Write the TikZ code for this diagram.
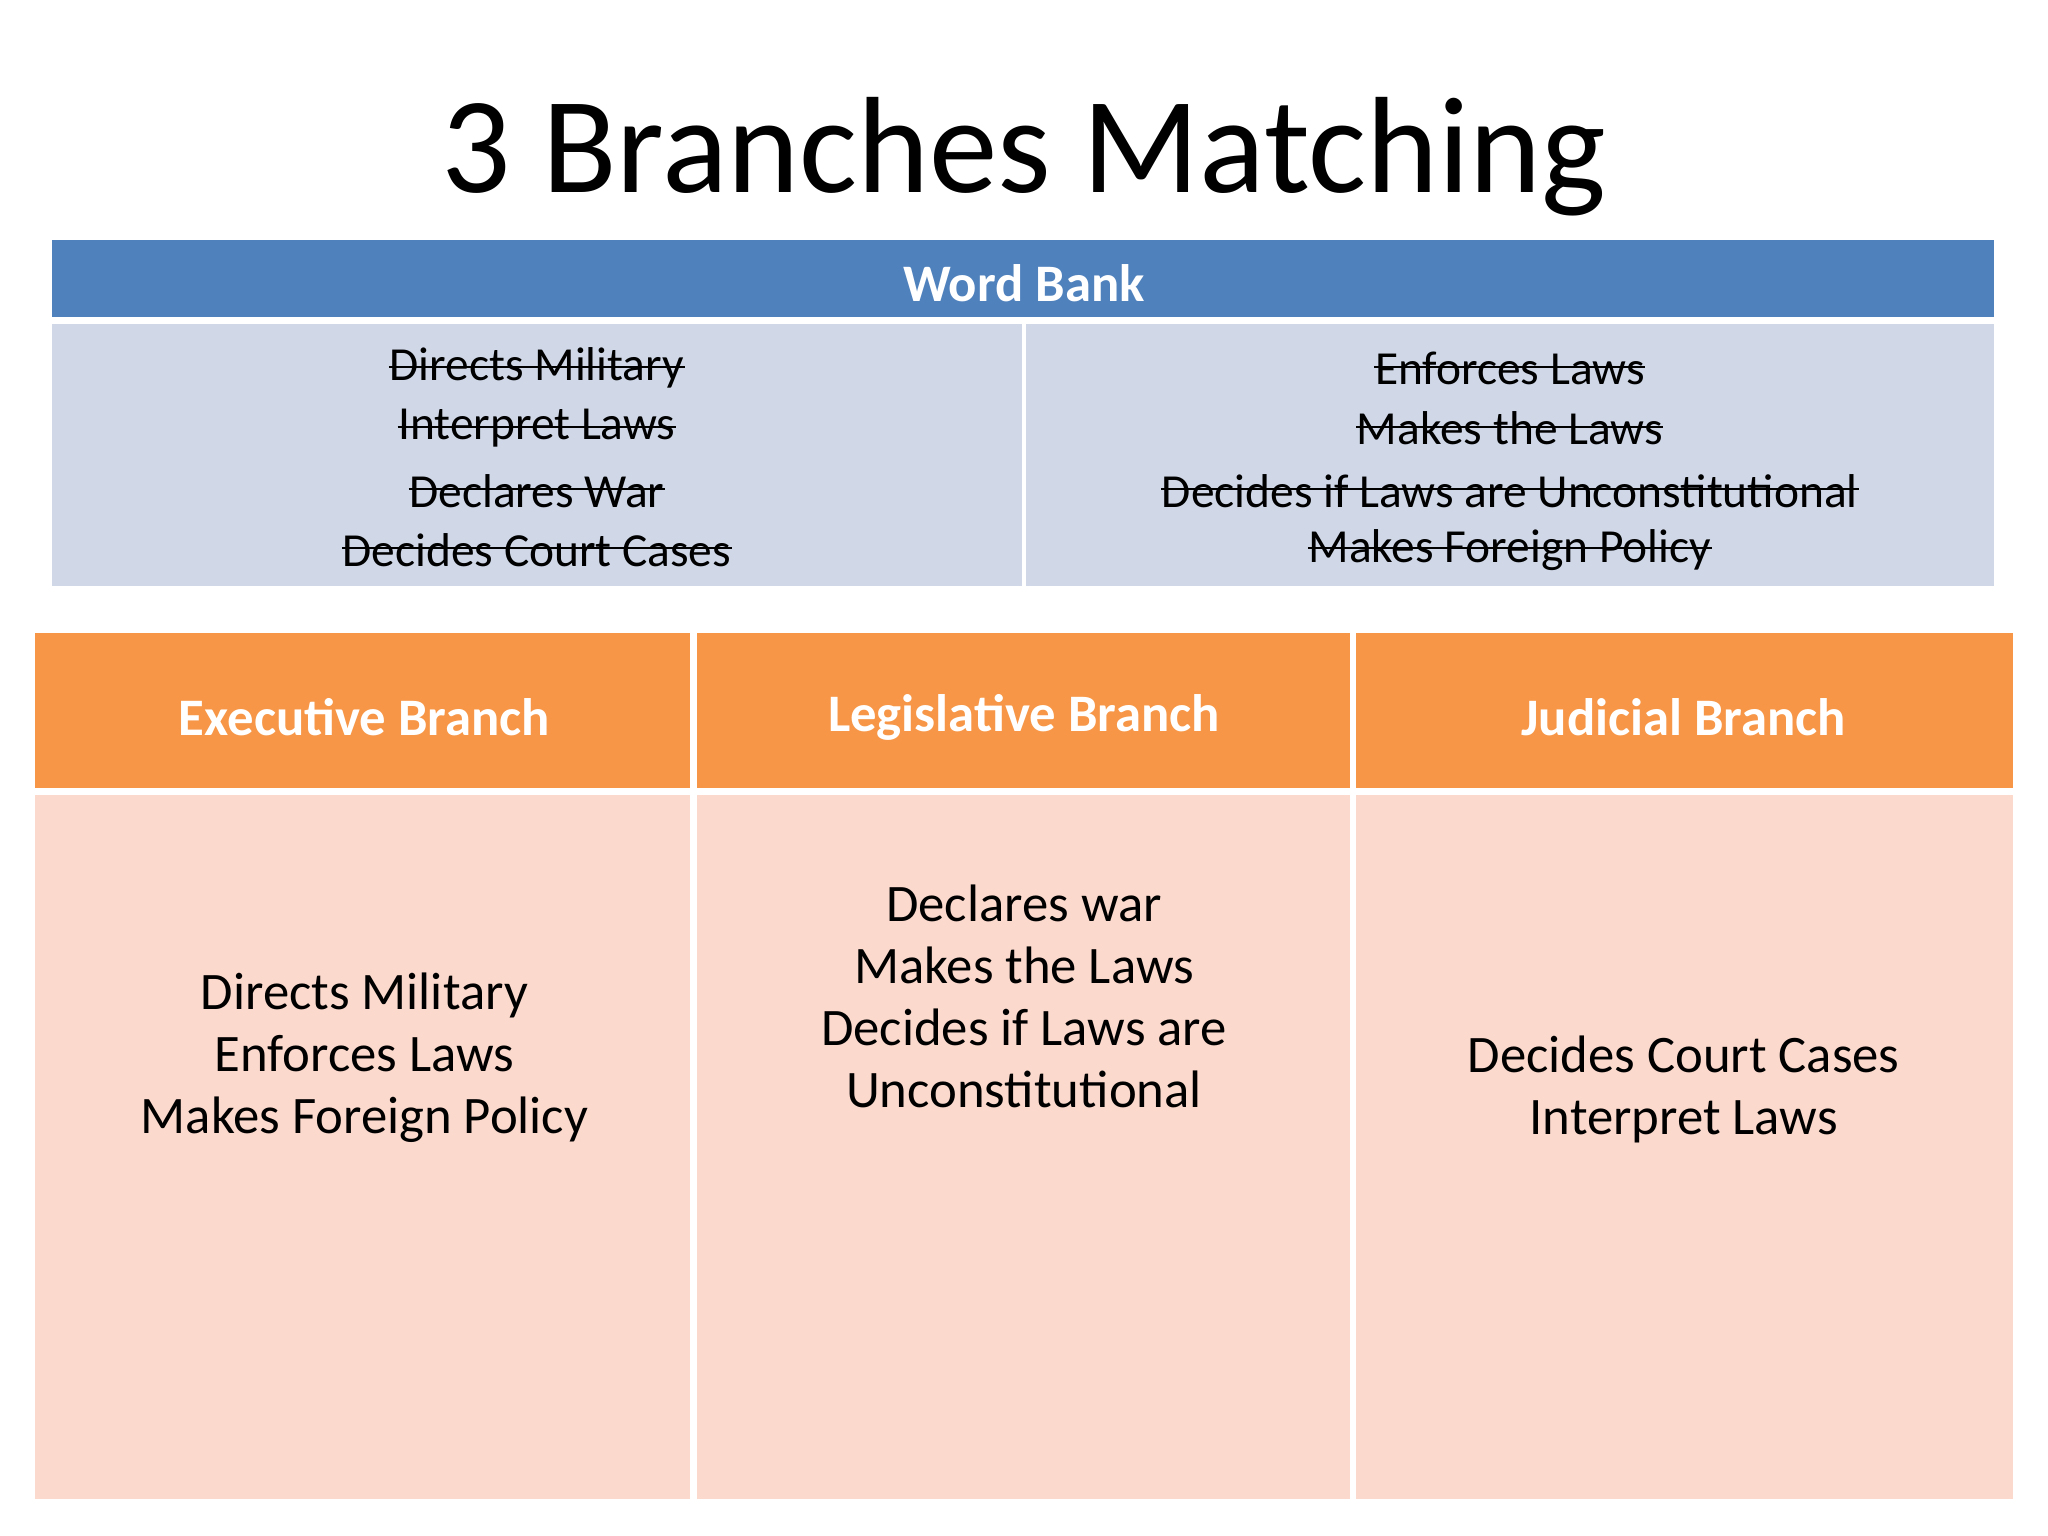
\documentclass[tikz,border=0pt]{standalone}
\usepackage{fontspec}
\setmainfont{Carlito}
\definecolor{wbblue}{HTML}{4F81BD}
\definecolor{wbbody}{HTML}{D0D8E8}
\definecolor{orhead}{HTML}{F79646}
\definecolor{orbody}{HTML}{FBD9CD}
\tikzset{
  headtxt/.style={text=white, font=\bfseries\fontsize{15}{17.4}\selectfont},
  banktxt/.style={inner sep=0pt, font=\fontsize{13.5}{17.6}\selectfont,
    append after command={([yshift=0.5pt]\tikzlastnode.west) edge[draw=black, line width=0.6pt] ([yshift=0.5pt]\tikzlastnode.east)}},
  bodytxt/.style={align=center, font=\fontsize{15}{17.6}\selectfont},
}
\begin{document}
\begin{tikzpicture}[x=0.01306cm,y=-0.01306cm]
\fill[white] (0,0) rectangle (1568,1176);
\useasboundingbox (0,0) rectangle (1568,1176);
\node[font=\fontsize{39}{44}\selectfont] (title) at (784,120) {3 Branches Matching};
% word bank
\fill[wbblue] (40,184) rectangle (1527,243);
\node[headtxt] (wb) at (784,217) {Word Bank};
\fill[wbbody] (40,248) rectangle (1527,449);
\draw[white, line width=1.2pt] (784,248) -- (784,449);
\node[banktxt] (l1) at (411,282) {Directs Military};
\node[banktxt] (l2) at (411,328) {Interpret Laws};
\node[banktxt] (l3) at (411,376) {Declares War};
\node[banktxt] (l4) at (411,421) {Decides Court Cases};
\node[banktxt] (r1) at (1156,282) {Enforces Laws};
\node[banktxt] (r2) at (1156,328) {Makes the Laws};
\node[banktxt] (r3) at (1156,376) {Decides if Laws are Unconstitutional};
\node[banktxt] (r4) at (1156,421) {Makes Foreign Policy};
% branches table
\fill[orhead] (27,485) rectangle (1541,605);
\fill[orbody] (27,607) rectangle (1541,1148);
\draw[white, line width=1.8pt] (27,606) -- (1541,606);
\draw[white, line width=1.8pt] (531,485) -- (531,1148);
\draw[white, line width=1.8pt] (1036,485) -- (1036,1148);
\node[headtxt] (h1) at (279,549) {Executive Branch};
\node[headtxt] (h2) at (784,549) {Legislative Branch};
\node[headtxt] (h3) at (1289,549) {Judicial Branch};
\node[bodytxt] (b1) at (279,810) {Directs Military\\Enforces Laws\\Makes Foreign Policy};
\node[bodytxt] (b2) at (784,763) {Declares war\\Makes the Laws\\Decides if Laws are\\Unconstitutional};
\node[bodytxt] (b3) at (1289,834) {Decides Court Cases\\Interpret Laws};
\end{tikzpicture}
\end{document}
